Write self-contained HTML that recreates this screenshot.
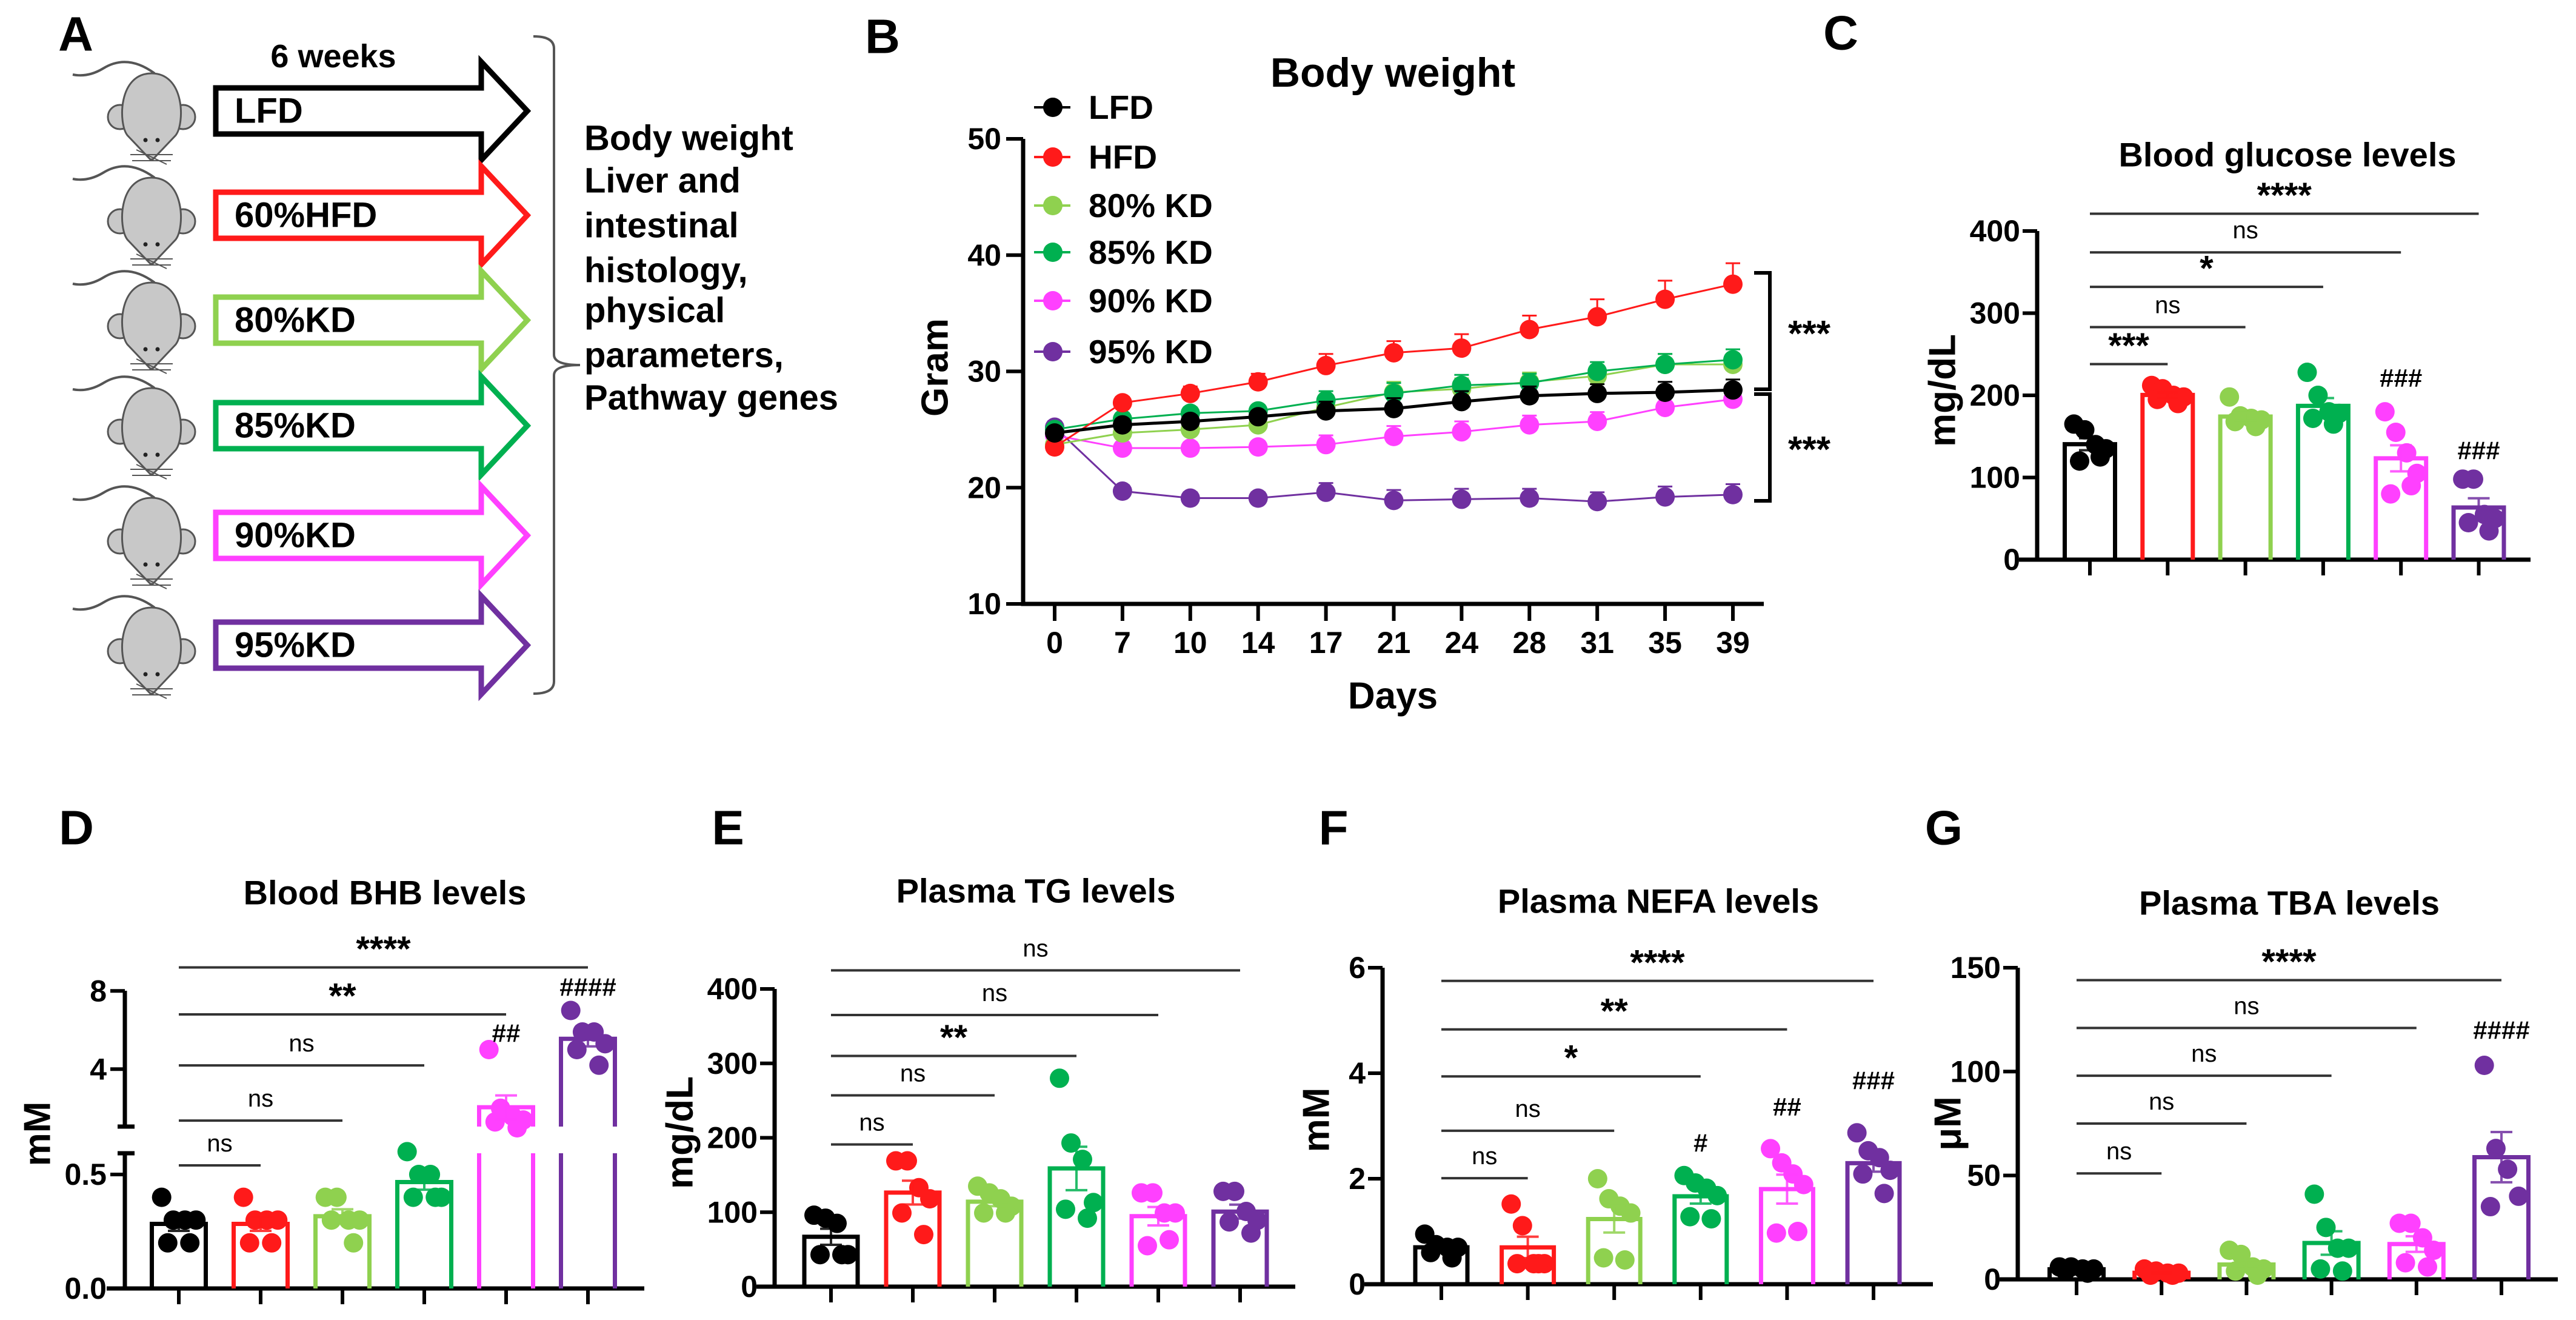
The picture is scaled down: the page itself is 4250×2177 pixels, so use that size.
<!DOCTYPE html>
<html><head><meta charset="utf-8"><title>Diet figure</title>
<style>
html,body{margin:0;padding:0;background:#fff;}
svg{display:block;font-family:"Liberation Sans",Arial,sans-serif;}
</style></head>
<body>
<svg id="fig" width="4250" height="2177" viewBox="0 0 4250 2177" xmlns="http://www.w3.org/2000/svg"></svg>
<script>
// ---------- shared categories ----------
const groups = ['LFD','HFD','80% KD','85% KD','90% KD','95% KD'];
const colors = ['#000000','#ff1a1a','#8fd14f','#00b050','#ff40ff','#7030a0'];

// ---------- Panel B data ----------
const days = ['0','7','10','14','17','21','24','28','31','35','39'];
const bwLFD = [24.7,25.4,25.7,26.1,26.6,26.8,27.4,27.9,28.1,28.2,28.4];
const bwHFD = [23.5,27.3,28.1,29.1,30.5,31.6,32.0,33.6,34.7,36.2,37.5];
const bwKD80 = [23.7,24.7,25.0,25.4,26.9,28.2,28.5,29.1,29.6,30.6,30.6];
const bwKD85 = [25.0,25.9,26.4,26.6,27.5,28.1,28.8,29.0,30.0,30.6,31.0];
const bwKD90 = [24.5,23.4,23.4,23.5,23.7,24.4,24.8,25.4,25.7,26.9,27.6];
const bwKD95 = [25.2,19.7,19.1,19.1,19.6,18.9,19.0,19.1,18.8,19.2,19.4];
const errHFD = [0.5,0.5,0.6,0.7,1.0,1.0,1.2,1.2,1.5,1.6,1.8];
const errSmall = [0.5,0.5,0.5,0.5,0.8,0.9,0.9,0.8,0.8,0.9,0.9];
const bwTicks = [10,20,30,40,50];

// ---------- Panel C data ----------
const glucosePts = [[165,158,140,135,120,125],[212,208,200,198,195,190],[198,175,172,170,168,162],[228,200,180,178,172,165],[180,155,130,105,80,90],[98,98,55,50,45,35]];
const glucoseTicks = [0,100,200,300,400];
const glucoseSigY = [238,283,332,374,421];
const glucoseSigLbl = ['***','ns','*','ns','****'];
const glucoseHash = [null,null,null,null,221,133];
const glucoseHashLbl = ['','','','','###','###'];

// ---------- Panel D data ----------
const bhbPts = [[0.40,0.30,0.30,0.30,0.20,0.20],[0.40,0.30,0.30,0.30,0.20,0.20],[0.40,0.40,0.30,0.30,0.30,0.20],[0.60,0.50,0.50,0.40,0.40,0.40],[5.0,2.0,1.6,1.4,1.3,1.0],[7.0,5.9,5.9,5.3,5.0,4.2]];
const bhbTicksLow = ['0.0','0.5'];
const bhbTicksHigh = ['4','8'];
const bhbSigY = [0.54,1.37,4.19,6.8,9.2];
const bhbSigLbl = ['ns','ns','ns','**','****'];
const bhbHash = [null,null,null,null,5.84,8.2];
const bhbHashLbl = ['','','','','##','####'];

// ---------- Panel E data ----------
const tgPts = [[96,92,85,43,43,43],[169,169,133,118,99,70],[135,126,118,108,99,99],[280,193,171,113,104,92],[126,126,99,99,55,63],[128,128,101,89,87,72]];
const tgTicks = [0,100,200,300,400];
const tgSigY = [191,257,310,365,425];
const tgSigLbl = ['ns','ns','**','ns','ns'];

// ---------- Panel F data ----------
const nefaPts = [[0.95,0.75,0.70,0.70,0.60,0.50],[1.52,1.11,0.39,0.39,0.39,0.39],[2.0,1.62,1.48,1.35,0.50,0.46],[2.06,1.92,1.82,1.68,1.28,1.24],[2.57,2.30,2.09,1.89,0.97,1.00],[2.87,2.53,2.40,2.16,2.09,1.72]];
const nefaTicks = [0,2,4,6];
const nefaSigY = [2.01,2.91,3.94,4.83,5.75];
const nefaSigLbl = ['ns','ns','*','**','****'];
const nefaHash = [null,null,null,2.68,3.36,3.86];
const nefaHashLbl = ['','','','#','##','###'];

// ---------- Panel G data ----------
const tbaPts = [[6,6,5,5,4,3],[5,4,3,3,2,2],[14,12,6,5,4,2],[41,25,15,15,5,4],[27,27,20,14,8,6],[103,63,53,40,35]];
const tbaTicks = [0,50,100,150];
const tbaSigY = [51,75,98,121,144];
const tbaSigLbl = ['ns','ns','ns','ns','****'];
const tbaHash = [null,null,null,null,null,120];
const tbaHashLbl = ['','','','','','####'];

const NS='http://www.w3.org/2000/svg';
const svg=document.getElementById('fig');
function mk(tag,attrs,parent){const e=document.createElementNS(NS,tag);for(const k in attrs)e.setAttribute(k,attrs[k]);(parent||svg).appendChild(e);return e;}
function txt(x,y,s,size,opts,parent){opts=opts||{};const t=mk('text',{x:x,y:y,'font-size':size,'font-weight':opts.w||'bold','text-anchor':opts.a||'middle','dominant-baseline':'central',fill:opts.fill||'#000'},parent);if(opts.rot)t.setAttribute('transform','rotate(-90 '+x+' '+y+')');t.textContent=s;return t;}
function mean(a){return a.reduce((s,v)=>s+v,0)/a.length;}
function sem(a){const m=mean(a);const sd=Math.sqrt(a.reduce((s,v)=>s+(v-m)*(v-m),0)/(a.length-1));return sd/Math.sqrt(a.length);}

// ---------- Panel letters ----------
[['A',125,56],['B',1456,60],['C',3037,54],['D',126,1365],['E',1201,1365],['F',2200,1365],['G',3207,1365]].forEach(p=>{
  const t=txt(p[1],p[2],p[0],80);
  
  
});

// ---------- Panel A ----------
const gA=mk('g',{});


const aLabels=['LFD','60%HFD','80%KD','85%KD','90%KD','95%KD'];
const aRows=[183,355,528,702,883,1064];
const t6=txt(550,93,'6 weeks',54,{},gA);


aRows.forEach((cy,i)=>{
  const m=mk('g',{},gA);
  
  
  const cx=250;
  mk('path',{d:`M${cx+5},${cy-62} Q${cx-40},${cy-95} ${cx-80},${cy-70} Q${cx-105},${cy-55} ${cx-130},${cy-60}`,fill:'none',stroke:'#555','stroke-width':4},m);
  mk('circle',{cx:cx-52,cy:cy+10,r:20,fill:'#c8c8c8',stroke:'#555','stroke-width':3},m);
  mk('circle',{cx:cx+52,cy:cy+10,r:20,fill:'#c8c8c8',stroke:'#555','stroke-width':3},m);
  mk('path',{d:`M${cx},${cy-62} C${cx+55},${cy-62} ${cx+55},${cy+20} ${cx+40},${cy+40} L${cx+2},${cy+80} L${cx-2},${cy+80} L${cx-40},${cy+40} C${cx-55},${cy+20} ${cx-55},${cy-62} ${cx},${cy-62} Z`,fill:'#c8c8c8',stroke:'#555','stroke-width':3},m);
  mk('circle',{cx:cx-10,cy:cy+48,r:3.5,fill:'#222'},m);
  mk('circle',{cx:cx+10,cy:cy+48,r:3.5,fill:'#222'},m);
  mk('path',{d:`M${cx-35},${cy+72} L${cx+35},${cy+72} M${cx-32},${cy+82} L${cx+32},${cy+82} M${cx-25},${cy+64} L${cx+25},${cy+88}`,stroke:'#555','stroke-width':2,fill:'none'},m);
  const ar=mk('path',{d:`M356,${cy-38} L794,${cy-38} L794,${cy-81} L870,${cy} L794,${cy+81} L794,${cy+38} L356,${cy+38} Z`,fill:'#fff',stroke:colors[i],'stroke-width':9,'stroke-linejoin':'miter'},gA);
  
  
  const lt=txt(387,cy,aLabels[i],58,{a:'start'},gA);
  
  
});
const br=mk('path',{d:'M880,60 Q914,60 914,80 L914,585 Q914,602 957,602 Q914,602 914,619 L914,1124 Q914,1144 880,1144',fill:'none',stroke:'#555','stroke-width':4},gA);


const outLines=['Body weight','Liver and','intestinal','histology,','physical','parameters,','Pathway genes'];
const outY=[228,298,372,446,512,586,656];
outLines.forEach((s,i)=>{
  const t=txt(964,outY[i],s,58,{a:'start'},gA);
  
  
});

// ---------- Panel B line chart ----------
const gB=mk('g',{});


const bX0=1740, bDX=111.9;
function bx(i){return bX0+i*bDX;}
function by(v){return 996-(v-10)*(996-229)/40;}
const bt=txt(2298,120,'Body weight',68,{},gB);


const bAxis=mk('path',{d:`M1688,${by(50)} L1688,996 L2910,996`,fill:'none',stroke:'#000','stroke-width':7},gB);


bwTicks.forEach(v=>{
  mk('line',{x1:1660,x2:1688,y1:by(v),y2:by(v),stroke:'#000','stroke-width':6},gB);
  const t=txt(1652,by(v),String(v),50,{a:'end'},gB);
  
  
});
days.forEach((d,i)=>{
  mk('line',{x1:bx(i),x2:bx(i),y1:996,y2:1024,stroke:'#000','stroke-width':6},gB);
  const t=txt(bx(i),1060,d,50,{},gB);
  
  
});
const dl=txt(2298,1148,'Days',62,{},gB);


const gl=txt(1543,606,'Gram',62,{rot:true},gB);


const bSeries=[bwLFD,bwHFD,bwKD80,bwKD85,bwKD90,bwKD95];
const bErr=[errSmall,errHFD,errSmall,errSmall,errSmall,errSmall];
const drawOrder=[5,4,2,3,1,0];
drawOrder.forEach(si=>{
  const s=bSeries[si];
  const g=mk('g',{},gB);
  
  
  s.forEach((v,i)=>{
    const top=by(v+bErr[si][i]);
    mk('line',{x1:bx(i),x2:bx(i),y1:by(v),y2:top,stroke:colors[si],'stroke-width':3},g);
    mk('line',{x1:bx(i)-12,x2:bx(i)+12,y1:top,y2:top,stroke:colors[si],'stroke-width':3},g);
  });
  mk('polyline',{points:s.map((v,i)=>bx(i)+','+by(v)).join(' '),fill:'none',stroke:colors[si],'stroke-width':si===0?5:3},g);
  s.forEach((v,i)=>{
    const c=mk('circle',{cx:bx(i),cy:by(v),r:16,fill:colors[si]},g);
    
    
  });
});
const legY=[177,259,339,416,496,580];
groups.forEach((gname,i)=>{
  const lg=mk('g',{},gB);
  
  
  mk('line',{x1:1706,x2:1766,y1:legY[i],y2:legY[i],stroke:colors[i],'stroke-width':4},lg);
  mk('circle',{cx:1737,cy:legY[i],r:16,fill:colors[i]},lg);
  txt(1796,legY[i],gname,55,{a:'start'},lg);
});
[[450,642],[650,826]].forEach((b,i)=>{
  const p=mk('path',{d:`M2894,${b[0]} L2920,${b[0]} L2920,${b[1]} L2894,${b[1]}`,fill:'none',stroke:'#000','stroke-width':6},gB);
  
  
  const t=txt(2985,[550,741][i],'***',60,{},gB);
  
  
});

// ---------- Generic bar chart ----------
function barChart(cfg){
  const g=mk('g',{});
  
  
  const t=txt(cfg.titleX,cfg.titleY,cfg.title,cfg.titleSize||56,{},g);
  
  
  const yl=txt(cfg.ylabX,cfg.ylabY,cfg.ylab,62,{rot:true},g);
  
  
  const y=cfg.y;
  if(cfg.broken){cfg.broken(g);} else {
    const ax=mk('path',{d:`M${cfg.ax},${y(cfg.ticks[cfg.ticks.length-1])} L${cfg.ax},${y(0)}`,fill:'none',stroke:'#000','stroke-width':7},g);
    
    
    cfg.ticks.forEach(v=>{
      mk('line',{x1:cfg.ax-24,x2:cfg.ax,y1:y(v),y2:y(v),stroke:'#000','stroke-width':6},g);
      const tl=txt(cfg.ax-28,y(v),String(v),50,{a:'end'},g);
      
      
    });
  }
  const xa=mk('line',{x1:cfg.ax-30,x2:cfg.xEnd,y1:y(0),y2:y(0),stroke:'#000','stroke-width':7},g);
  
  
  const bw=cfg.bw/2;
  const offs=[-28,-9,10,28,-18,18];
  cfg.pts.forEach((pts,i)=>{
    const cx=cfg.x0+i*cfg.dx;
    const m=mean(pts), e=sem(pts);
    mk('line',{x1:cx,x2:cx,y1:y(0),y2:y(0)+26,stroke:'#000','stroke-width':6},g);
    const bg=mk('g',{},g);
    
    
    if(cfg.barPath){cfg.barPath(bg,cx,bw,m,colors[i]);}
    else mk('path',{d:`M${cx-bw},${y(0)} L${cx-bw},${y(m)} L${cx+bw},${y(m)} L${cx+bw},${y(0)}`,fill:'none',stroke:colors[i],'stroke-width':7},bg);
    pts.forEach((v,k)=>{
      const c=mk('circle',{cx:cx+offs[k%6]*cfg.bw/88,cy:y(v),r:16,fill:colors[i]},bg);
      
      
    });
    const eb=mk('path',{d:`M${cx},${y(m-e)} L${cx},${y(m+e)} M${cx-18},${y(m+e)} L${cx+18},${y(m+e)} M${cx-18},${y(m-e)} L${cx+18},${y(m-e)}`,stroke:colors[i],'stroke-width':4,fill:'none',opacity:0.85},bg);
    
    
    if(cfg.hash && cfg.hash[i]!=null){
      const h=txt(cx,y(cfg.hash[i]),cfg.hashLbl[i],42,{},g);
      
      
    }
  });
  cfg.sigY.forEach((v,k)=>{
    const x1=cfg.x0, x2=cfg.x0+(k+1)*cfg.dx;
    const l=mk('line',{x1:x1,x2:x2,y1:y(v),y2:y(v),stroke:'#333','stroke-width':4},g);
    
    
    const isStar=cfg.sigLbl[k].indexOf('*')>=0;
    const lt=txt((x1+x2)/2,y(v)-(isStar?30:36),cfg.sigLbl[k],isStar?58:40,{w:isStar?'bold':'normal'},g);
    
    
  });
}

// C
barChart({name:'blood-glucose-chart',title:'Blood glucose  levels',titleX:3774,titleY:255,ylab:'mg/dL',ylabX:3205,ylabY:644,
  y:v=>923-v*1.355,ax:3361,xEnd:4175,x0:3448,dx:128.3,bw:83,ticks:glucoseTicks,pts:glucosePts,sigY:glucoseSigY,sigLbl:glucoseSigLbl,hash:glucoseHash,hashLbl:glucoseHashLbl});

// D (broken axis)
function yD(v){return v<=0.6?2125-v*376:1860-(v-1)*32.25;}
barChart({name:'blood-bhb-chart',title:'Blood BHB levels',titleX:635,titleY:1472,ylab:'mM',ylabX:62,ylabY:1870,
  y:yD,ax:206,xEnd:1063,x0:295,dx:135,bw:89,ticks:[],pts:bhbPts,sigY:bhbSigY,sigLbl:bhbSigLbl,hash:bhbHash,hashLbl:bhbHashLbl,
  broken:function(g){
    const a=mk('path',{d:'M206,2125 L206,1902 M194,1902 L222,1902 M206,1858 L206,1634 M194,1858 L222,1858',fill:'none',stroke:'#000','stroke-width':7},g);
    
    
    [[0,bhbTicksLow[0]],[0.5,bhbTicksLow[1]],[4,bhbTicksHigh[0]],[8,bhbTicksHigh[1]]].forEach(p=>{
      mk('line',{x1:182,x2:206,y1:yD(p[0]),y2:yD(p[0]),stroke:'#000','stroke-width':6},g);
      const t=txt(176,yD(p[0]),p[1],50,{a:'end'},g);
      
      
    });
  },
  barPath:function(bg,cx,bw,m,col){
    if(m<=0.6){mk('path',{d:`M${cx-bw},${yD(0)} L${cx-bw},${yD(m)} L${cx+bw},${yD(m)} L${cx+bw},${yD(0)}`,fill:'none',stroke:col,'stroke-width':7},bg);}
    else{
      mk('path',{d:`M${cx-bw},${yD(0)} L${cx-bw},1902 M${cx+bw},${yD(0)} L${cx+bw},1902`,fill:'none',stroke:col,'stroke-width':7},bg);
      mk('path',{d:`M${cx-bw},1858 L${cx-bw},${yD(m)} L${cx+bw},${yD(m)} L${cx+bw},1858`,fill:'none',stroke:col,'stroke-width':7},bg);
    }
  }});

// E
barChart({name:'plasma-tg-chart',title:'Plasma TG levels',titleX:1709,titleY:1469,ylab:'mg/dL',ylabX:1122,ylabY:1868,
  y:v=>2122-v*1.2275,ax:1278,xEnd:2137,x0:1371,dx:135,bw:88,ticks:tgTicks,pts:tgPts,sigY:tgSigY,sigLbl:tgSigLbl});

// F
barChart({name:'plasma-nefa-chart',title:'Plasma NEFA levels',titleX:2736,titleY:1486,ylab:'mM',ylabX:2172,ylabY:1847,
  y:v=>2118-v*87,ax:2281,xEnd:3189,x0:2378,dx:142.6,bw:86,ticks:nefaTicks,pts:nefaPts,sigY:nefaSigY,sigLbl:nefaSigLbl,hash:nefaHash,hashLbl:nefaHashLbl});

// G
barChart({name:'plasma-tba-chart',title:'Plasma TBA levels',titleX:3777,titleY:1489,ylab:'\u03bcM',ylabX:3214,ylabY:1853,
  y:v=>2110-v*3.427,ax:3329,xEnd:4220,x0:3426,dx:140.2,bw:89,ticks:tbaTicks,pts:tbaPts,sigY:tbaSigY,sigLbl:tbaSigLbl,hash:tbaHash,hashLbl:tbaHashLbl});
</script>
</body></html>
